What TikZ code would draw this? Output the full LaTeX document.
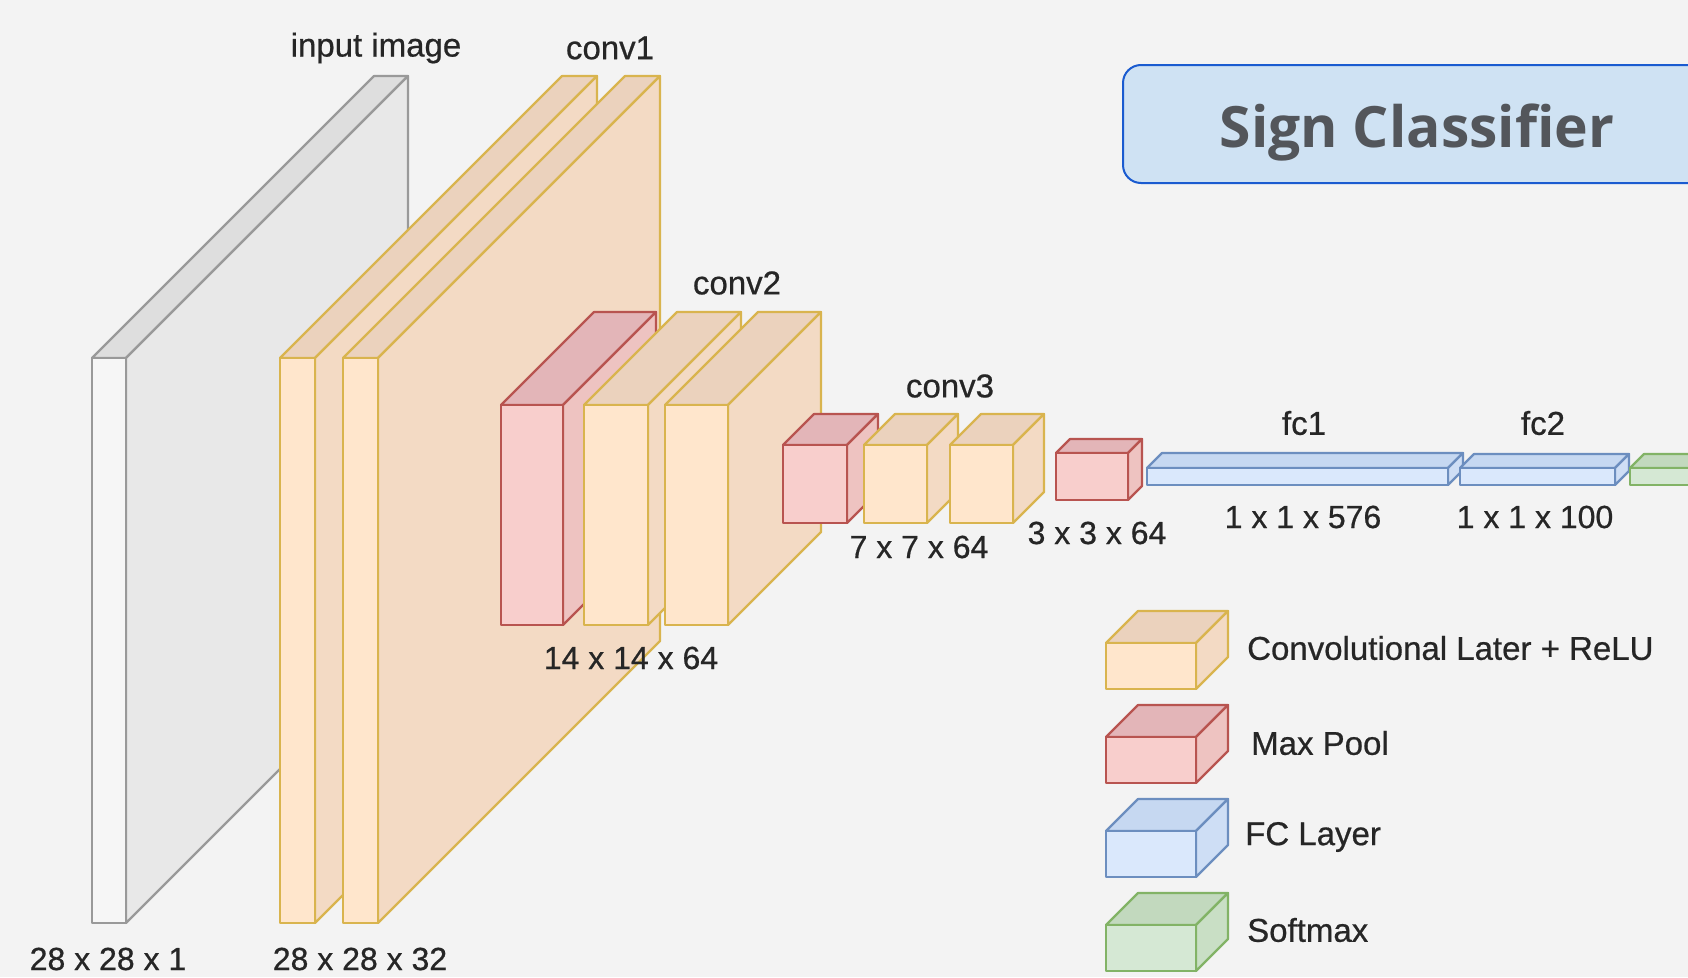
\documentclass[tikz,border=0pt]{standalone}
\usepackage{fontspec}
\setmainfont{Liberation Sans}[FakeBold=0.5]
\newfontfamily\labelfont{Liberation Sans}[FakeBold=0.6]
\newfontfamily\titlefont{Open Sans}
\definecolor{bgc}{HTML}{F3F3F3}
\definecolor{labelc}{HTML}{262626}
\definecolor{inpF}{HTML}{F6F6F6}
\definecolor{inpT}{HTML}{DEDEDE}
\definecolor{inpS}{HTML}{E8E8E8}
\definecolor{inpD}{HTML}{999999}
\definecolor{convF}{HTML}{FFE6CC}
\definecolor{convT}{HTML}{EBD2BD}
\definecolor{convS}{HTML}{F3DAC4}
\definecolor{convD}{HTML}{D9B44E}
\definecolor{poolF}{HTML}{F8CECC}
\definecolor{poolT}{HTML}{E3B5B8}
\definecolor{poolS}{HTML}{EEC3C1}
\definecolor{poolD}{HTML}{B85450}
\definecolor{fcF}{HTML}{DAE8FC}
\definecolor{fcT}{HTML}{C6D8F1}
\definecolor{fcS}{HTML}{CEDEF5}
\definecolor{fcD}{HTML}{6C8EBF}
\definecolor{smF}{HTML}{D5E8D4}
\definecolor{smT}{HTML}{C2D9BE}
\definecolor{smS}{HTML}{C9DFC5}
\definecolor{smD}{HTML}{82B366}
\definecolor{titleF}{HTML}{CFE2F3}
\definecolor{titleD}{HTML}{1A5BD0}
\definecolor{titleT}{HTML}{53565B}
\tikzset{
  face/.style={line width=2.2pt, line join=round},
  lbl/.style={text=labelc, font=\labelfont\fontsize{32}{38}\selectfont, inner sep=0pt},
  wlbl/.style={text=labelc, font=\labelfont\fontsize{33}{39}\selectfont, inner sep=0pt},
  leglbl/.style={text=labelc, font=\labelfont\fontsize{33}{39}\selectfont, inner sep=0pt, anchor=west},
}
% #1 name, #2 x1, #3 y1 (top), #4 x2, #5 y2 (bottom), #6 depth, #7 colour prefix
\newcommand{\mycube}[7]{%
  \coordinate (#1) at (#2,#3);
  \draw[face, draw=#7D, fill=#7T] (#2,#3) -- ({#2+#6},{#3-#6}) -- ({#4+#6},{#3-#6}) -- (#4,#3) -- cycle;
  \draw[face, draw=#7D, fill=#7S] (#4,#3) -- ({#4+#6},{#3-#6}) -- ({#4+#6},{#5-#6}) -- (#4,#5) -- cycle;
  \draw[face, draw=#7D, fill=#7F] (#2,#3) rectangle (#4,#5);
}
\begin{document}
\begin{tikzpicture}[x=1pt,y=-1pt]
\useasboundingbox (0,0) rectangle (1688,977);
\clip (0,0) rectangle (1688,977);
\fill[bgc] (0,0) rectangle (1688,977);

% input image
\mycube{inp}{92}{358}{126}{923}{282}{inp}
% conv1
\mycube{c1a}{280}{358}{315}{923}{282}{conv}
\mycube{c1b}{343}{358}{378}{923}{282}{conv}
% conv2 group
\mycube{p2}{501}{405}{563}{625}{93}{pool}
\mycube{c2a}{584}{405}{648}{625}{93}{conv}
\mycube{c2b}{665}{405}{728}{625}{93}{conv}
% conv3 group
\mycube{p3}{783}{445}{847}{523}{31}{pool}
\mycube{c3a}{864}{445}{927}{523}{31}{conv}
\mycube{c3b}{950}{445}{1013}{523}{31}{conv}
% pool 3x3
\mycube{p4}{1056}{453}{1128}{500}{14}{pool}
% fully connected
\mycube{fc1}{1147}{468}{1448}{485}{15}{fc}
\mycube{fc2}{1460}{468}{1615}{485}{14}{fc}
\mycube{sm}{1630}{468}{1730}{485}{14}{sm}

% legend
\mycube{lgconv}{1106}{643}{1196}{689}{32}{conv}
\mycube{lgpool}{1106}{737}{1196}{783}{32}{pool}
\mycube{lgfc}{1106}{831}{1196}{877}{32}{fc}
\mycube{lgsm}{1106}{925}{1196}{971}{32}{sm}

% labels
\node[wlbl] (tinp) at (376,48) {input image};
\node[wlbl] (tc1) at (610,48) {conv1};
\node[wlbl] (tc2) at (737,283) {conv2};
\node[wlbl] (tc3) at (950,386) {conv3};
\node[wlbl] (tfc1) at (1304,423) {fc1};
\node[wlbl] (tfc2) at (1543,423) {fc2};
\node[lbl] (dinp) at (108,959) {28 x 28 x 1};
\node[lbl] (dc1) at (360,959) {28 x 28 x 32};
\node[lbl] (dc2) at (631,658) {14 x 14 x 64};
\node[lbl] (dc3) at (919,547) {7 x 7 x 64};
\node[lbl] (dp4) at (1097,533) {3 x 3 x 64};
\node[lbl] (dfc1) at (1303,517) {1 x 1 x 576};
\node[lbl] (dfc2) at (1535,517) {1 x 1 x 100};

\node[leglbl] (lconv) at (1247,648) {Convolutional Later + ReLU};
\node[leglbl] (lpool) at (1251,743) {Max Pool};
\node[leglbl] (lfc) at (1245,837) {FC Layer};
\node[leglbl] (lsm) at (1247,930) {Softmax};

% title
\draw[titleD, fill=titleF, line width=2pt, rounded corners=18pt] (1123,65) rectangle (1740,183);
\node[text=titleT, font=\titlefont\bfseries\fontsize{57}{64}\selectfont, inner sep=0pt] (title) at (1417,133) {Sign Classifier};
\end{tikzpicture}
\end{document}
